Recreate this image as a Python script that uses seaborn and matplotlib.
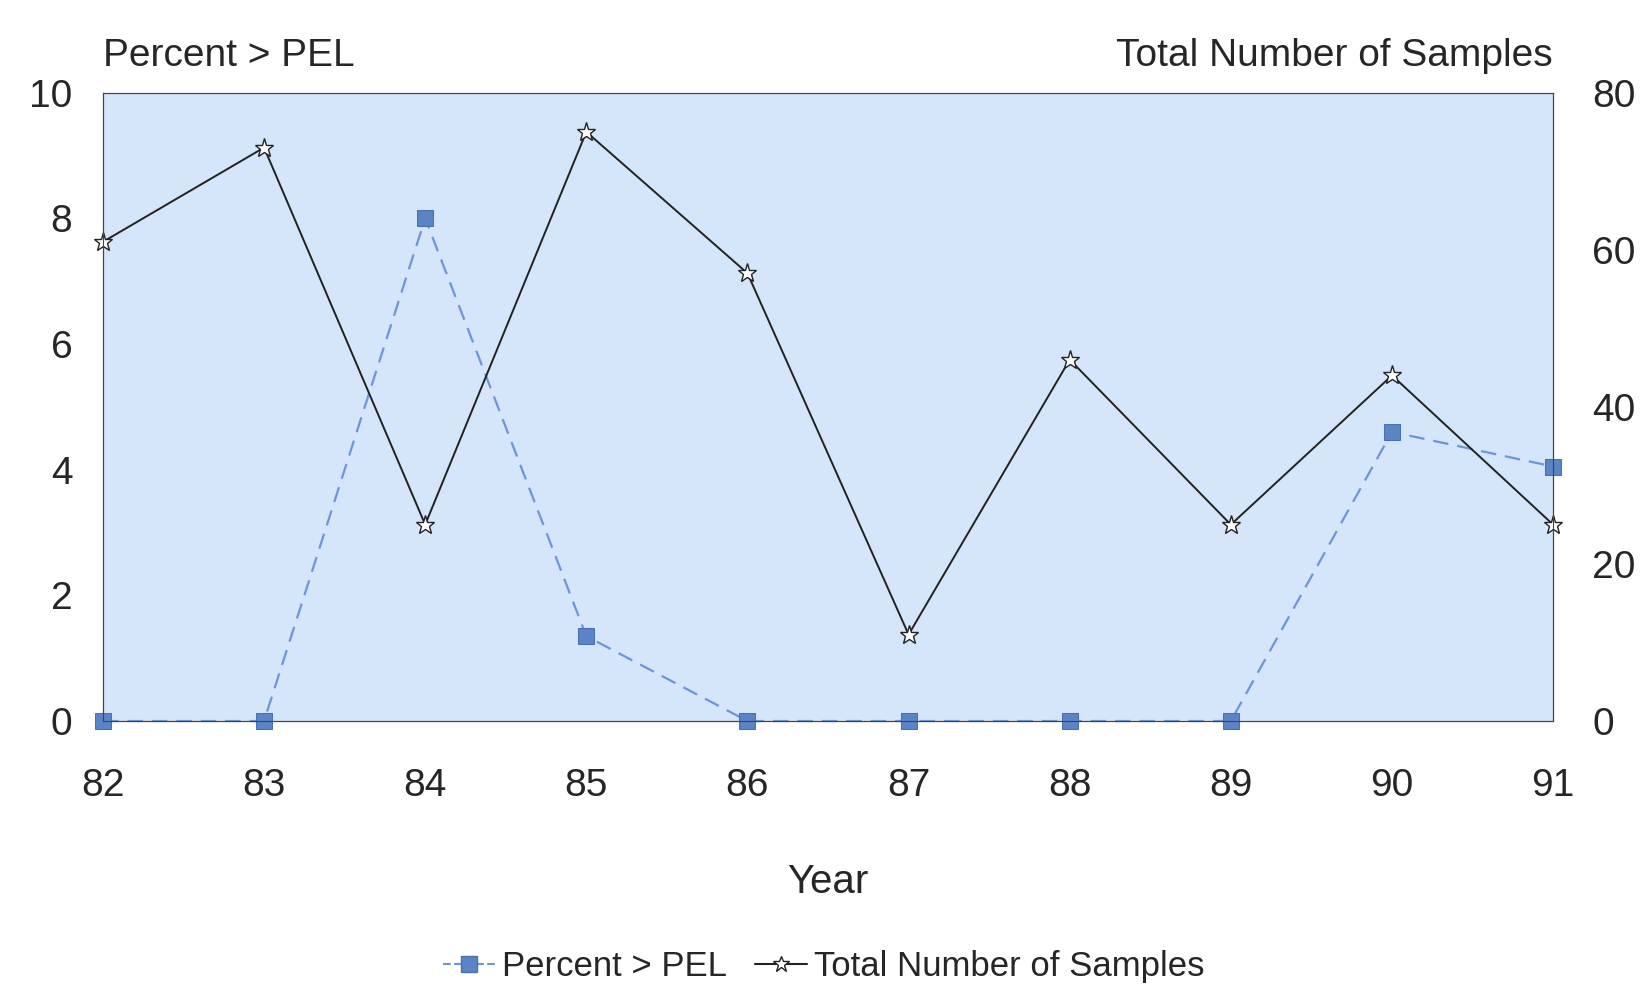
import numpy as np
import matplotlib.pyplot as plt
import seaborn as sns
import pandas as pd
from matplotlib.lines import Line2D

years = [82, 83, 84, 85, 86, 87, 88, 89, 90, 91]
percent_pel = [0, 0, 8.0, 1.35, 0, 0, 0, 0, 4.6, 4.05]
total_samples = [61, 73, 25, 75, 57, 11, 46, 25, 44, 25]

sns.set_style("white")
plt.rcParams['font.family'] = ['Liberation Sans', 'DejaVu Sans']

fig = plt.figure(figsize=(16.47, 9.85), dpi=100)
ax = fig.add_axes([0.0625, 0.268, 0.8805, 0.638])
ax.set_facecolor('#d5e5fa')
ax2 = ax.twinx()

df = pd.DataFrame({"Year": years, "pct": percent_pel, "tot": total_samples})

sns.lineplot(data=df, x="Year", y="pct", ax=ax, color='#6f95d4', linestyle=(0, (7, 4)),
             linewidth=1.6, marker='s', markersize=11, markerfacecolor='#5a84c6',
             markeredgecolor='#4a70b0', zorder=3, clip_on=False)
sns.lineplot(data=df, x="Year", y="tot", ax=ax2, color='#222222', linewidth=1.4,
             marker='*', markersize=14, markerfacecolor='white',
             markeredgecolor='#222222', markeredgewidth=1.0, clip_on=False)

ax.set_xlim(82, 91)
ax.set_ylim(0, 10)
ax2.set_ylim(0, 80)
ax.set_xticks(years)
ax.set_yticks([0, 2, 4, 6, 8, 10])
ax2.set_yticks([0, 20, 40, 60, 80])
for a in (ax, ax2):
    a.tick_params(labelsize=28, color='#333333')
    for s in a.spines.values():
        s.set_color('#444444')
ax.tick_params(axis='x', direction='out', length=10, pad=24)
ax.tick_params(axis='y', length=0, pad=22)
ax2.tick_params(axis='y', length=0, pad=28)
ax.set_ylabel("")
ax2.set_ylabel("")
ax.set_xlabel("Year", fontsize=29, labelpad=42)

fig.text(0.0625, 0.925, "Percent > PEL", fontsize=28, ha='left', va='bottom')
fig.text(0.943, 0.925, "Total Number of Samples", fontsize=28, ha='right', va='bottom')

handles = [
    Line2D([], [], color='#6f95d4', linestyle='--', marker='s', markersize=12,
           markerfacecolor='#5a84c6', markeredgecolor='#4a70b0'),
    Line2D([], [], color='#222222', marker='*', markersize=12,
           markerfacecolor='white', markeredgecolor='#222222'),
]
fig.legend(handles, ["Percent > PEL", "Total Number of Samples"], loc='lower center',
           bbox_to_anchor=(0.5, -0.03), ncol=2, frameon=False, fontsize=25,
           handlelength=1.5, handletextpad=0.2, columnspacing=0.8)

fig.savefig("out.png", dpi=100)
